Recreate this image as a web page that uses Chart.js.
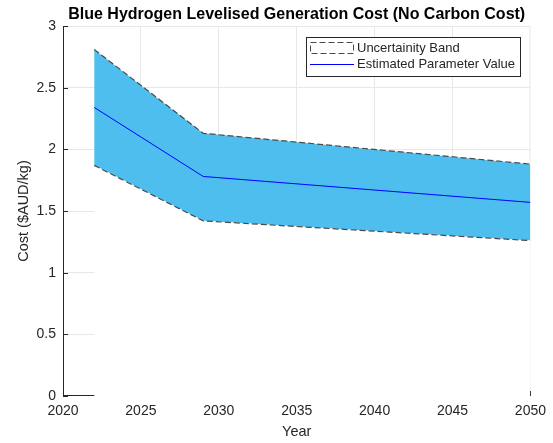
<!DOCTYPE html>
<html>
<head>
<meta charset="utf-8">
<script src="https://cdn.jsdelivr.net/npm/chart.js@4/dist/chart.umd.min.js"></script>
<style>
  html, body { margin: 0; padding: 0; background: #fff; }
  #c { display: block; }
</style>
</head>
<body>
<canvas id="c" width="553" height="443"></canvas>
<script>
// Blue hydrogen levelised cost projection (no carbon cost), $AUD/kg
const years = [2022, 2029, 2050];
const upperBound = [2.81, 2.13, 1.88];
const estimate = [2.34, 1.78, 1.57];
const lowerBound = [1.87, 1.42, 1.26];

const xTickLabels = ['2020', '2025', '2030', '2035', '2040', '2045', '2050'];
const yTickLabels = ['0', '0.5', '1', '1.5', '2', '2.5', '3'];

const seriesNames = ['Uncertainity Band', 'Estimated Parameter Value'];

const FONT = 'Liberation Sans, Arial, Helvetica, sans-serif';
const INK = '#262626';
const GRID = '#e8e8e8';
const BAND = '#4DBEEE';
const EDGE = '#4a4a4a';
const LINE = '#0000ff';

const pts = (vals) => years.map((y, i) => ({ x: y, y: vals[i] }));

// Axis pieces drawn under the datasets so the white area below the band hides them:
// the bottom axis line, the right-edge grid line and small inward tick marks.
const underlay = {
  id: 'underlay',
  beforeDatasetsDraw(chart) {
    const { ctx, chartArea: a, scales: { x, y } } = chart;
    ctx.save();
    ctx.lineWidth = 1;

    ctx.strokeStyle = GRID;
    ctx.beginPath();
    ctx.moveTo(a.right - 0.5, a.top);
    ctx.lineTo(a.right - 0.5, a.bottom);
    ctx.stroke();

    ctx.strokeStyle = INK;
    ctx.beginPath();
    ctx.moveTo(a.left, a.bottom - 0.5);
    ctx.lineTo(a.right, a.bottom - 0.5);
    y.ticks.forEach(t => {
      const py = Math.round(y.getPixelForValue(t.value)) + 0.5;
      ctx.moveTo(a.left, py);
      ctx.lineTo(a.left + 5, py);
    });
    x.ticks.forEach(t => {
      const px = Math.round(x.getPixelForValue(t.value)) + 0.5;
      ctx.moveTo(px, a.bottom);
      ctx.lineTo(px, a.bottom - 5);
    });
    ctx.stroke();
    ctx.restore();
  }
};

// Boxed legend in the upper right of the plot
const boxLegend = {
  id: 'boxLegend',
  afterDraw(chart) {
    const { ctx } = chart;
    const bx = 306.5, by = 37.5, bw = 214, bh = 39;
    ctx.save();
    ctx.fillStyle = '#fff';
    ctx.fillRect(bx, by, bw, bh);
    ctx.strokeStyle = INK;
    ctx.lineWidth = 1;
    ctx.strokeRect(bx, by, bw, bh);

    // band sample: dashed outline
    ctx.setLineDash([6, 3]);
    ctx.strokeStyle = EDGE;
    ctx.strokeRect(310.5, 42.5, 43, 11);
    ctx.setLineDash([]);

    // estimate sample: solid line
    ctx.strokeStyle = LINE;
    ctx.beginPath();
    ctx.moveTo(310, 64.5);
    ctx.lineTo(354, 64.5);
    ctx.stroke();

    ctx.fillStyle = INK;
    ctx.font = '13px ' + FONT;
    ctx.textBaseline = 'middle';
    ctx.textAlign = 'left';
    ctx.fillText(seriesNames[0], 357, 48.5);
    ctx.fillText(seriesNames[1], 357, 64.5);
    ctx.restore();
  }
};

new Chart(document.getElementById('c'), {
  type: 'line',
  data: {
    datasets: [
      {
        label: seriesNames[1],
        data: pts(estimate),
        borderColor: LINE,
        borderWidth: 1,
        pointRadius: 0,
        fill: false,
        order: 1
      },
      {
        label: seriesNames[0],
        data: pts(upperBound),
        borderColor: EDGE,
        borderWidth: 1.2,
        borderDash: [6, 3],
        pointRadius: 0,
        backgroundColor: BAND,
        fill: { target: 2 },
        order: 3
      },
      {
        label: 'lower',
        data: pts(lowerBound),
        borderColor: EDGE,
        borderWidth: 1.2,
        borderDash: [6, 3],
        pointRadius: 0,
        backgroundColor: '#ffffff',
        fill: 'origin',
        order: 2
      }
    ]
  },
  options: {
    responsive: false,
    animation: false,
    devicePixelRatio: 1,
    layout: { padding: { left: 0, right: 21, top: 0, bottom: 0 } },
    plugins: {
      legend: { display: false },
      tooltip: { enabled: false },
      title: {
        display: true,
        fullSize: false,
        text: 'Blue Hydrogen Levelised Generation Cost (No Carbon Cost)',
        color: '#000',
        font: { family: FONT, size: 16, weight: 'bold', lineHeight: 1.2 },
        padding: { top: 4.5, bottom: 2.3 }
      }
    },
    scales: {
      x: {
        type: 'linear',
        min: 2020,
        max: 2050,
        afterFit: s => { s.height = 47; },
        grid: {
          color: c => (c.tick && c.tick.value === 2050) ? 'rgba(0,0,0,0)' : GRID,
          lineWidth: 1,
          drawTicks: false
        },
        border: { display: false },
        ticks: {
          stepSize: 5,
          padding: 7,
          color: INK,
          font: { family: FONT, size: 14 },
          maxRotation: 0,
          callback: (v) => xTickLabels[Math.round((v - 2020) / 5)] ?? ''
        },
        title: {
          display: true,
          text: 'Year',
          color: INK,
          font: { family: FONT, size: 14.5 },
          padding: { top: 0, bottom: 2 }
        }
      },
      y: {
        min: 0,
        max: 3,
        afterFit: s => { s.width = 63; },
        grid: {
          color: c => (c.tick && c.tick.value === 0) ? 'rgba(0,0,0,0)' : GRID,
          lineWidth: 1,
          drawTicks: false
        },
        border: { display: true, color: INK, width: 1 },
        ticks: {
          stepSize: 0.5,
          padding: 7,
          color: INK,
          font: { family: FONT, size: 14 },
          callback: (v) => yTickLabels[Math.round(v / 0.5)] ?? ''
        },
        title: {
          display: true,
          text: 'Cost ($AUD/kg)',
          color: INK,
          font: { family: FONT, size: 14.5 },
          padding: { top: 15, bottom: 0 }
        }
      }
    }
  },
  plugins: [underlay, boxLegend]
});
</script>
</body>
</html>
